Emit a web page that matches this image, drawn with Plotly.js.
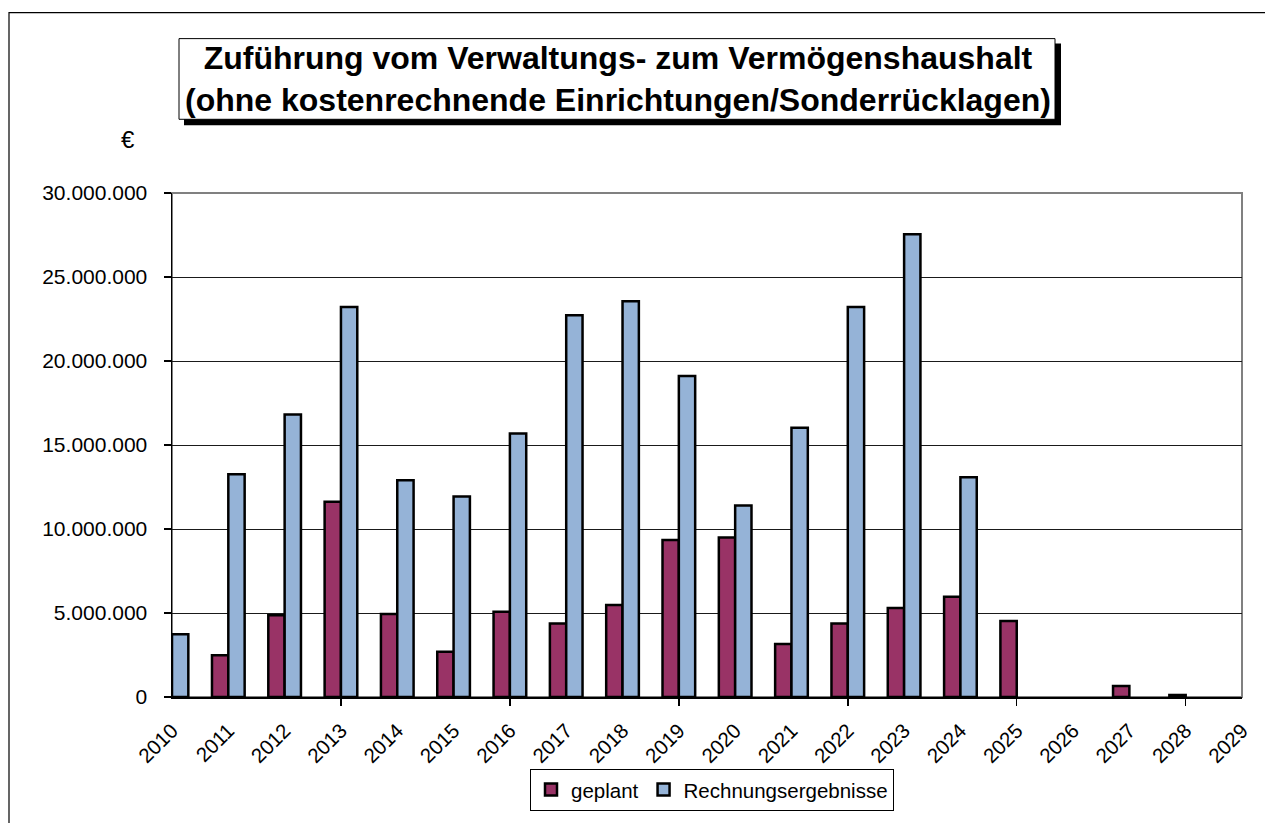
<!DOCTYPE html>
<html>
<head>
<meta charset="utf-8">
<script src="https://cdn.plot.ly/plotly-3.0.1.min.js"></script>
<style>
html,body{margin:0;padding:0;background:#fff;}
#chart{width:1265px;height:823px;}
</style>
</head>
<body>
<div id="chart"></div>
<script>
// ---- data ----
const years = [2010,2011,2012,2013,2014,2015,2016,2017,2018,2019,2020,2021,2022,2023,2024,2025,2026,2027,2028];
const geplant = [null,2490000,4860000,11620000,4940000,2690000,5080000,4370000,5470000,9350000,9500000,3160000,4370000,5300000,5970000,4520000,null,650000,120000];
const rechnungsergebnisse = [3740000,13260000,16820000,23220000,12900000,11930000,15690000,22720000,23550000,19100000,11400000,16020000,23220000,27540000,13080000,null,null,null,null];
const tickYears = [2010,2011,2012,2013,2014,2015,2016,2017,2018,2019,2020,2021,2022,2023,2024,2025,2026,2027,2028,2029];
const tickLabels = tickYears.map(String);
const markYears = [2010,2013,2016,2019,2022,2025,2028];
const seriesNames = ['geplant','Rechnungsergebnisse'];
const titleText = 'Zuführung vom Verwaltungs- zum Vermögenshaushalt<br>(ohne kostenrechnende Einrichtungen/Sonderrücklagen)';
const unitText = '€';

// ---- layout geometry ----
const W = 1265, H = 823;
const L = 172, R = 1242, T = 193, B = 699;
const PX = p => (p - L) / (R - L);
const PY = p => (B - p) / (B - T);
const FONT = 'Liberation Sans, Arial, sans-serif';

const traces = [
  {type:'bar', name:seriesNames[0], x:years, y:geplant,
   marker:{color:'#993366', line:{color:'#000', width:2.5}}, hoverinfo:'x+y'},
  {type:'bar', name:seriesNames[1], x:years, y:rechnungsergebnisse,
   marker:{color:'#95B3D7', line:{color:'#000', width:2.5}}, hoverinfo:'x+y'}
];

const layout = {
  width: W, height: H,
  margin: {l: L, r: W - R, t: T, b: H - B, pad: 0},
  paper_bgcolor: '#fff', plot_bgcolor: '#fff',
  font: {family: FONT, color: '#000', size: 20},
  separators: ',.',
  barmode: 'group', bargap: 0.42, bargroupgap: 0,
  showlegend: true,
  legend: {orientation: 'h', x: PX(712), xanchor: 'center', y: PY(771), yanchor: 'top',
           bordercolor: '#000', borderwidth: 1, bgcolor: '#fff',
           font: {family: FONT, size: 20.5, color: '#000'}, traceorder: 'normal'},
  xaxis: {type: 'linear', range: [2010, 2029], autorange: false, automargin: false,
          tickmode: 'array', tickvals: tickYears, ticktext: tickLabels, tickangle: -45,
          ticks: 'inside', ticklen: 0, tickcolor: 'rgba(0,0,0,0)',
          minor: {tickmode: 'array', tickvals: markYears, ticks: 'outside', ticklen: 7, tickwidth: 1.5, tickcolor: '#000', showgrid: false},
          ticklabelstandoff: 12,
          tickfont: {family: FONT, size: 20.5, color: '#000'},
          showgrid: false, zeroline: false, showline: true, linecolor: '#000', linewidth: 1.5, fixedrange: true},
  yaxis: {range: [0, 30000000], autorange: false, automargin: false,
          tickmode: 'linear', tick0: 0, dtick: 5000000, tickformat: ',d',
          ticks: 'outside', ticklen: 7, tickwidth: 1.5, tickcolor: '#000',
          ticklabelstandoff: 12,
          tickfont: {family: FONT, size: 21, color: '#000'},
          showgrid: true, gridcolor: '#1a1a1a', gridwidth: 1,
          zeroline: false, showline: true, linecolor: '#000', linewidth: 1.5, fixedrange: true},
  shapes: [
    // outer chart border
    {type:'rect', xref:'paper', yref:'paper', x0:PX(9), x1:PX(1275), y0:PY(12), y1:PY(835),
     line:{color:'#000', width:1.2}, fillcolor:'rgba(0,0,0,0)', layer:'below'},
    // plot area border
    {type:'rect', xref:'paper', yref:'paper', x0:0, x1:1, y0:0, y1:1,
     line:{color:'#808080', width:2}, fillcolor:'rgba(0,0,0,0)', layer:'below'},
    // title box shadow
    {type:'rect', xref:'paper', yref:'paper', x0:PX(184), x1:PX(1061), y0:PY(43), y1:PY(125),
     line:{width:0}, fillcolor:'#000', layer:'above'},
    // title box
    {type:'rect', xref:'paper', yref:'paper', x0:PX(179), x1:PX(1055), y0:PY(38), y1:PY(119),
     line:{color:'#000', width:1}, fillcolor:'#fff', layer:'above'}
  ],
  annotations: [
    {xref:'paper', yref:'paper', x:PX(618), y:PY(79), xanchor:'center', yanchor:'middle',
     text:'<b>' + titleText.replace('<br>', '</b><br><b>') + '</b>', showarrow:false, align:'center',
     font:{family: FONT, size: 32, color:'#000'}},
    {xref:'paper', yref:'paper', x:PX(128), y:PY(139), xanchor:'center', yanchor:'middle',
     text: unitText, showarrow:false, font:{family: FONT, size: 24, color:'#000'}}
  ]
};

Plotly.newPlot('chart', traces, layout, {displayModeBar: false, staticPlot: true});
</script>
</body>
</html>
